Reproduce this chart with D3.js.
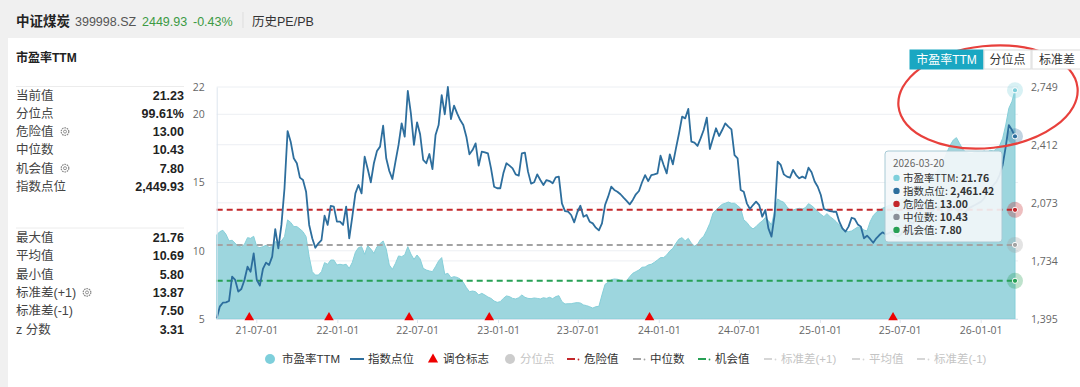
<!DOCTYPE html>
<html>
<head>
<meta charset="utf-8">
<script src="https://cdn.jsdelivr.net/npm/d3@7"></script>
<style>
body { margin: 0; background: #f0f0f0; }
svg { display: block; font-family: "Liberation Sans", "Noto Sans CJK SC", sans-serif; }
</style>
</head>
<body>
<svg id="chart" width="1080" height="387"></svg>
<script>
// weekly PE TTM and index level, first week 2021-04-02, last 2026-03-20
var startDate = new Date(2021, 3, 2);

var peValues = [
  11.16, 11.40, 11.50, 11.21, 10.72, 10.77, 10.55, 10.33, 10.28, 10.47,
  10.96, 10.91, 11.06, 10.30, 10.23, 10.30, 10.40, 10.25, 10.30, 10.67,
  10.55, 10.72, 11.03, 12.26, 12.08, 11.77, 11.77, 11.60, 11.40, 11.03,
  9.57, 8.47, 8.22, 8.22, 8.47, 9.13, 9.01, 9.32, 9.32, 8.96,
  9.01, 8.96, 9.01, 8.71, 9.15, 9.89, 10.23, 10.30, 9.74, 10.37,
  10.13, 9.81, 10.30, 10.52, 10.72, 10.13, 8.96, 8.64, 9.08, 9.62,
  9.57, 9.69, 10.30, 9.76, 9.37, 9.69, 9.40, 8.71, 8.59, 8.52,
  8.47, 8.84, 9.25, 9.50, 8.27, 8.35, 8.03, 8.10, 8.05, 7.93,
  7.69, 7.30, 7.00, 7.05, 7.00, 6.76, 6.88, 6.76, 6.61, 6.51,
  6.32, 6.22, 6.27, 6.51, 6.69, 6.64, 6.51, 6.47, 6.56, 6.76,
  6.59, 6.51, 6.49, 6.54, 6.51, 6.47, 6.56, 6.51, 6.59, 6.49,
  6.64, 6.71, 6.27, 6.10, 6.12, 6.12, 6.17, 6.20, 6.17, 6.03,
  5.98, 5.90, 5.80, 5.90, 5.93, 6.76, 7.54, 7.69, 7.88, 7.93,
  7.91, 7.83, 7.79, 7.79, 8.10, 8.35, 8.47, 8.59, 8.79, 8.81,
  8.96, 9.01, 9.15, 9.32, 9.50, 9.50, 9.69, 9.98, 10.18, 10.55,
  10.86, 10.96, 10.72, 10.91, 10.55, 10.35, 10.47, 10.86, 11.06, 11.50,
  12.01, 12.74, 12.99, 13.21, 13.40, 13.48, 13.57, 13.48, 13.48, 13.31,
  13.11, 12.26, 12.08, 11.77, 11.60, 11.77, 12.01, 12.18, 12.43, 12.20,
  11.90, 12.90, 13.79, 13.65, 13.55, 13.23, 12.99, 12.99, 13.06, 13.11,
  13.06, 13.16, 13.45, 13.31, 13.11, 12.87, 12.67, 12.50, 12.72, 12.50,
  12.33, 12.13, 11.89, 11.64, 11.45, 11.40, 11.45, 11.60, 11.74, 11.69,
  11.52, 11.45, 12.13, 12.57, 12.82, 12.96, 13.11, 13.21, 13.31, 13.40,
  13.55, 13.65, 13.75, 13.89, 14.04, 14.19, 14.33, 14.53, 14.67, 14.82,
  15.02, 15.21, 15.43, 15.65, 15.92, 16.29, 16.73, 17.26, 17.75, 18.12,
  18.29, 17.87, 17.46, 17.22, 17.14, 17.12, 17.22, 17.26, 17.22, 17.31,
  17.22, 17.36, 17.31, 17.46, 17.70, 18.24, 19.22, 20.44, 20.93, 21.76
];

var indexValues = [
  1399, 1467, 1490, 1492, 1500, 1642, 1623, 1555, 1570, 1623,
  1700, 1671, 1778, 1623, 1590, 1687, 1724, 1710, 1759, 1920,
  1807, 1944, 2158, 2492, 2430, 2333, 2304, 2220, 2206, 2138,
  1944, 1866, 1811, 1837, 1856, 1998, 1944, 2055, 2051, 1963,
  1963, 1944, 2051, 1866, 1992, 2128, 2177, 2128, 2342, 2270,
  2193, 2304, 2375, 2401, 2523, 2333, 2259, 2212, 2313, 2411,
  2537, 2459, 2726, 2595, 2411, 2543, 2473, 2323, 2304, 2358,
  2270, 2469, 2527, 2702, 2590, 2749, 2562, 2640, 2595, 2556,
  2527, 2459, 2356, 2381, 2420, 2290, 2372, 2368, 2362, 2274,
  2167, 2158, 2158, 2245, 2304, 2290, 2274, 2239, 2232, 2362,
  2366, 2255, 2185, 2193, 2239, 2206, 2177, 2206, 2200, 2187,
  2222, 2226, 2070, 2025, 2021, 2002, 1959, 2018, 2056, 1992,
  2002, 1963, 1953, 1928, 1912, 1953, 2060, 2109, 2167, 2148,
  2138, 2123, 2103, 2084, 2064, 2090, 2123, 2142, 2193, 2235,
  2200, 2235, 2239, 2245, 2348, 2294, 2245, 2356, 2298, 2391,
  2479, 2576, 2566, 2621, 2430, 2424, 2405, 2449, 2498, 2570,
  2387, 2449, 2508, 2463, 2498, 2537, 2518, 2502, 2352, 2333,
  2148, 2138, 2070, 2037, 2060, 2080, 2060, 1992, 2031, 1924,
  1876, 2000, 2313, 2294, 2239, 2226, 2220, 2265, 2235, 2216,
  2226, 2216, 2278, 2251, 2197, 2167, 2119, 2037, 2031, 2025,
  2021, 2021, 1963, 1924, 1905, 1934, 1986, 1979, 1947, 1934,
  1866, 1881, 1862, 1840, 1866, 1885, 1901, 1889, 1895, 1905,
  1885, 1876, 1889, 1914, 1934, 1963, 1953, 1983, 2002, 1992,
  1963, 1983, 2021, 2041, 2051, 2031, 2002, 2012, 2041, 2051,
  2031, 2012, 2002, 2021, 2041, 2051, 2060, 2070, 2080, 2099,
  2138, 2158, 2177, 2197, 2235, 2294, 2401, 2527, 2498, 2461
];

var xTickDates = ["2021-07-01", "2022-01-01", "2022-07-01", "2023-01-01", "2023-07-01",
                  "2024-01-01", "2024-07-01", "2025-01-01", "2025-07-01", "2026-01-01"];
var rebalanceDates = ["2021-06-15", "2021-12-13", "2022-06-13", "2022-12-12", "2023-12-11", "2025-06-16"];

var leftTicks = [5, 10, 15, 20, 22];
var rightTicks = [1395, 1734, 2073, 2412, 2749];

var levelNames = ["危险值", "中位数", "机会值"];
var levelValues = [13.00, 10.43, 7.80];
var levelColors = ["#c3272b", "#a3a3a3", "#27a055"];

var statLabels1 = ["当前值", "分位点", "危险值", "中位数", "机会值", "指数点位"];
var statValues1 = ["21.23", "99.61%", "13.00", "10.43", "7.80", "2,449.93"];
var statLabels2 = ["最大值", "平均值", "最小值", "标准差(+1)", "标准差(-1)", "z 分数"];
var statValues2 = ["21.76", "10.69", "5.80", "13.87", "7.50", "3.31"];

var tipDate = "2026-03-20";
var tipLabels = ["市盈率TTM", "指数点位", "危险值", "中位数", "机会值"];
var tipValues = ["21.76", "2,461.42", "13.00", "10.43", "7.80"];

var parseDate = d3.timeParse("%Y-%m-%d");
var data = peValues.map(function(v, i) {
    return {date: d3.timeDay.offset(startDate, i * 7), pe: v, idx: indexValues[i]};
});

var peColor = "#7ecfdb", idxColor = "#2d6e9d";

var svg = d3.select("#chart");

// page + card
svg.append("rect").attr("width", 1080).attr("height", 387).attr("fill", "#f0f0f0");
svg.append("rect").attr("x", 8).attr("y", 38).attr("width", 1072).attr("height", 349).attr("fill", "#fff");

// header
var hdr = svg.append("g").attr("transform", "translate(0,26)");
hdr.append("text").attr("x", 16).attr("font-size", 13.5).attr("font-weight", "bold").attr("fill", "#222").text("中证煤炭");
hdr.append("text").attr("x", 75).attr("font-size", 12.5).attr("fill", "#555").text("399998.SZ");
hdr.append("text").attr("x", 142).attr("font-size", 12.5).attr("fill", "#3c9a44").text("2449.93");
hdr.append("text").attr("x", 193).attr("font-size", 12.5).attr("fill", "#3c9a44").text("-0.43%");
svg.append("line").attr("x1", 243).attr("x2", 243).attr("y1", 12).attr("y2", 28).attr("stroke", "#ddd");
hdr.append("text").attr("x", 252).attr("font-size", 12.5).attr("fill", "#333").text("历史PE/PB");

// scales
var x = d3.scaleTime()
    .domain([data[0].date, data[data.length - 1].date])
    .range([216.7, 1015]);
var yL = d3.scaleLinear().domain([5, 22]).range([319, 87]);
var yR = d3.scaleLinear().domain([1395, 2749]).range([319, 87]);

// grid
var gridY = leftTicks.map(function(d) { return yL(d); })
    .concat(rightTicks.slice(1, 4).map(function(d) { return yR(d); }));
svg.append("g").selectAll("line").data(gridY).enter().append("line")
    .attr("x1", 216.7).attr("x2", 1018)
    .attr("y1", function(d) { return d; }).attr("y2", function(d) { return d; })
    .attr("stroke", "#eceff3").attr("stroke-width", 1);

// PE area
var area = d3.area()
    .x(function(d) { return x(d.date); })
    .y0(yL(5))
    .y1(function(d) { return yL(d.pe); });
svg.append("path").datum(data).attr("d", area)
    .attr("fill", "#9dd6de").attr("stroke", "#86cfd9").attr("stroke-width", 1);

// level lines
svg.append("g").selectAll("line").data(levelValues).enter().append("line")
    .attr("x1", 216.7).attr("x2", 1015)
    .attr("y1", function(d) { return yL(d); }).attr("y2", function(d) { return yL(d); })
    .attr("stroke", function(d, i) { return levelColors[i]; })
    .attr("stroke-width", 2).attr("stroke-dasharray", "6,4");

// index line
var line = d3.line()
    .x(function(d) { return x(d.date); })
    .y(function(d) { return yR(d.idx); });
svg.append("path").datum(data).attr("d", line)
    .attr("fill", "none").attr("stroke", idxColor).attr("stroke-width", 1.8)
    .attr("stroke-linejoin", "round");

// axes
var axL = svg.append("g").attr("transform", "translate(216.7,0)")
    .call(d3.axisLeft(yL).tickValues(leftTicks).tickSize(0).tickPadding(12));
var axR = svg.append("g").attr("transform", "translate(1025,0)")
    .call(d3.axisRight(yR).tickValues(rightTicks).tickFormat(d3.format(",")).tickSize(0).tickPadding(6));
var axB = svg.append("g").attr("transform", "translate(0,319)")
    .call(d3.axisBottom(x).tickValues(xTickDates.map(parseDate))
        .tickFormat(d3.timeFormat("%y-%m-%d")).tickSize(4).tickPadding(4));
axL.select(".domain").attr("stroke", "#dde5ee");
axR.select(".domain").remove();
axB.select(".domain").attr("stroke", "#dde5ee").attr("d", "M216.7,0.5H1018");
axB.selectAll(".tick line").attr("stroke", "#dde5ee");
svg.selectAll(".tick text").attr("fill", "#666").attr("font-size", 10.5)
    .attr("font-family", "'Open Sans', sans-serif");

// rebalance markers
svg.append("g").selectAll("path").data(rebalanceDates).enter().append("path")
    .attr("d", d3.symbol().type(d3.symbolTriangle).size(40))
    .attr("transform", function(d) { return "translate(" + x(parseDate(d)) + ",317.5)"; })
    .attr("fill", "#ee0000");

// end markers
var last = data[data.length - 1];
var ends = [
    {y: yL(last.pe), c: peColor},
    {y: yR(last.idx), c: idxColor},
    {y: yL(levelValues[0]), c: levelColors[0]},
    {y: yL(levelValues[1]), c: levelColors[1]},
    {y: yL(levelValues[2]), c: levelColors[2]}
];
var endG = svg.append("g");
endG.selectAll("circle.halo").data(ends).enter().append("circle")
    .attr("cx", 1015).attr("cy", function(d) { return d.y; }).attr("r", 8)
    .attr("fill", function(d) { return d.c; }).attr("opacity", 0.3);
endG.selectAll("circle.dot").data(ends).enter().append("circle")
    .attr("cx", 1015).attr("cy", function(d) { return d.y; }).attr("r", 2.6)
    .attr("fill", function(d) { return d.c; }).attr("stroke", "#fff").attr("stroke-width", 1);

// tooltip
var tip = svg.append("g").attr("transform", "translate(885,151)");
tip.append("rect").attr("width", 117).attr("height", 91).attr("rx", 3)
    .attr("fill", "#f4f7f9").attr("fill-opacity", 0.9).attr("stroke", "#a8cad5");
tip.append("text").attr("x", 8).attr("y", 16).attr("font-size", 10).attr("fill", "#666")
    .attr("font-family", "'Noto Sans CJK SC', sans-serif").text(tipDate);
var tipColors = [peColor, idxColor, levelColors[0], "#8a8f98", levelColors[2]];
tipLabels.forEach(function(lbl, i) {
    var yy = 30.5 + i * 13;
    tip.append("circle").attr("cx", 11.5).attr("cy", yy - 3.6).attr("r", 3.2).attr("fill", tipColors[i]);
    var t = tip.append("text").attr("x", 18).attr("y", yy).attr("font-size", 10.5).attr("fill", "#333")
        .attr("font-family", "'Noto Sans CJK SC', sans-serif");
    t.append("tspan").text(lbl + ": ");
    t.append("tspan").attr("font-weight", "bold").text(tipValues[i]);
});

// red annotation ellipse
svg.append("ellipse").attr("cx", 988).attr("cy", 97).attr("rx", 90).attr("ry", 51)
    .attr("transform", "rotate(-6,988,97)")
    .attr("fill", "none").attr("stroke", "#e8403c").attr("stroke-width", 2.2);

// buttons
var btnLabels = ["市盈率TTM", "分位点", "标准差"];
var btnX = [910, 984, 1032], btnW = [73, 47, 50];
btnLabels.forEach(function(b, i) {
    svg.append("rect").attr("x", btnX[i]).attr("y", 50).attr("width", btnW[i]).attr("height", 19)
        .attr("fill", i === 0 ? "#1aa7c2" : "#fff").attr("stroke", i === 0 ? "#1aa7c2" : "#dcdcdc");
    svg.append("text").attr("x", btnX[i] + btnW[i] / 2).attr("y", 64).attr("text-anchor", "middle")
        .attr("font-size", 12).attr("fill", i === 0 ? "#fff" : "#333").text(b);
});

// left panel
svg.append("text").attr("x", 16).attr("y", 62).attr("font-size", 12).attr("font-weight", "bold")
    .attr("fill", "#222").text("市盈率TTM");
function gear(cx, cy) {
    svg.append("circle").attr("cx", cx).attr("cy", cy).attr("r", 3.8).attr("fill", "none")
        .attr("stroke", "#888").attr("stroke-width", 1.2).attr("stroke-dasharray", "1.6,0.8");
    svg.append("circle").attr("cx", cx).attr("cy", cy).attr("r", 1.5).attr("fill", "none")
        .attr("stroke", "#888").attr("stroke-width", 0.9);
}
function panelBlock(labels, values, lineY, firstY, gears) {
    svg.append("line").attr("x1", 16).attr("x2", 184).attr("y1", lineY).attr("y2", lineY)
        .attr("stroke", "#ececec");
    labels.forEach(function(lbl, i) {
        var yy = firstY + i * 18.3;
        svg.append("text").attr("x", 16).attr("y", yy).attr("font-size", 12.5).attr("fill", "#444").text(lbl);
        svg.append("text").attr("x", 184).attr("y", yy).attr("text-anchor", "end")
            .attr("font-size", 12.5).attr("font-weight", "bold").attr("fill", "#222").text(values[i]);
        if (gears[i]) gear(gears[i], yy - 4.5);
    });
}
panelBlock(statLabels1, statValues1, 86.5, 99.5, [0, 0, 65, 0, 65, 0]);
panelBlock(statLabels2, statValues2, 228, 242, [0, 0, 0, 87, 0, 0]);

// legend
var lg = svg.append("g").attr("font-size", 11.5);
var legY = 359;
lg.append("circle").attr("cx", 270).attr("cy", legY).attr("r", 5).attr("fill", peColor);
lg.append("text").attr("x", 282).attr("y", legY + 4).attr("fill", "#333").text("市盈率TTM");
lg.append("line").attr("x1", 350).attr("x2", 364).attr("y1", legY).attr("y2", legY)
    .attr("stroke", idxColor).attr("stroke-width", 2);
lg.append("text").attr("x", 368).attr("y", legY + 4).attr("fill", "#333").text("指数点位");
lg.append("path").attr("d", d3.symbol().type(d3.symbolTriangle).size(45))
    .attr("transform", "translate(433," + (legY + 0.5) + ")").attr("fill", "#ee0000");
lg.append("text").attr("x", 443).attr("y", legY + 4).attr("fill", "#333").text("调仓标志");
lg.append("circle").attr("cx", 510).attr("cy", legY).attr("r", 5).attr("fill", "#cccccc");
lg.append("text").attr("x", 520).attr("y", legY + 4).attr("fill", "#c4c4c4").text("分位点");

var dashItems = levelNames.concat(["标准差(+1)", "平均值", "标准差(-1)"]);
var dashX = [567, 633, 698, 764, 852, 917];
var dashColors = levelColors.concat(["#d6d6d6", "#d6d6d6", "#d6d6d6"]);
dashItems.forEach(function(name, i) {
    lg.append("line").attr("x1", dashX[i]).attr("x2", dashX[i] + 8).attr("y1", legY).attr("y2", legY)
        .attr("stroke", dashColors[i]).attr("stroke-width", 2);
    lg.append("circle").attr("cx", dashX[i] + 11.5).attr("cy", legY + 0.5).attr("r", 0.9).attr("fill", dashColors[i]);
    lg.append("text").attr("x", dashX[i] + 17).attr("y", legY + 4)
        .attr("fill", i < 3 ? "#333" : "#c4c4c4").text(name);
});
</script>
</body>
</html>
